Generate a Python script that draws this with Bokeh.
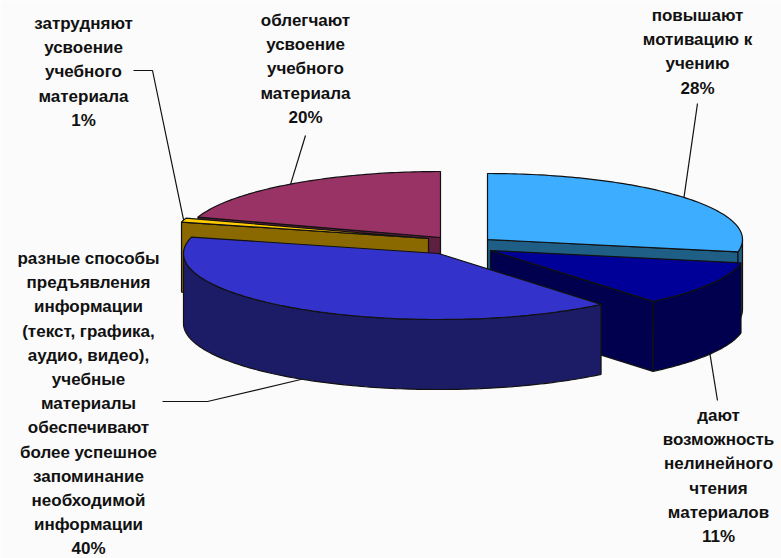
import math
from bokeh.plotting import figure
from bokeh.models import Range1d, ColumnDataSource
from bokeh.core.properties import value
from bokeh.embed import file_html
from bokeh.resources import INLINE

names = ["повышают", "дают", "разные", "затрудняют", "облегчают"]
values = [28, 11, 40, 1, 20]
label_lines = [
    ["повышают", "мотивацию к", "учению", "28%"],
    ["дают", "возможность", "нелинейного", "чтения", "материалов", "11%"],
    ["разные способы", "предъявления", "информации", "(текст, графика,", "аудио, видео),", "учебные",
     "материалы", "обеспечивают", "более успешное", "запоминание", "необходимой", "информации", "40%"],
    ["затрудняют", "усвоение", "учебного", "материала", "1%"],
    ["облегчают", "усвоение", "учебного", "материала", "20%"],
]
top_colors = ["#3DADFF", "#000099", "#3333CC", "#FFCC00", "#993366"]
side_colors = ["#1F5F85", "#00004F", "#1C1C66", "#8A6A00", "#5E1F40"]
centers = [(487, 239), (490, 250), (438, 253), (428, 238), (440, 237)]
label_pos = [(697, 15), (718, 415), (88, 258), (83, 23), (305, 20)]
leader_from = [(697, 103), (717, 400), (162, 401), (133, 70), (305, 135)]
leader_elbow = [None, None, (207, 401), (152, 70), None]
RX, RY, DEPTH, LINE_H = 255, 66, 70, 24.2
INK = "#111111"

W, H = 781, 558
p = figure(width=W, height=H, output_backend="svg", toolbar_location=None,
           x_range=Range1d(0, W), y_range=Range1d(H, 0), min_border=0,
           background_fill_color="#FBFBFB",
           border_fill_color="#FBFBFB", outline_line_color=None)
p.axis.visible = False
p.grid.visible = False

def pt(c, deg, dz=0):
    t = math.radians(deg)
    return c[0] + RX * math.sin(t), c[1] - RY * math.cos(t) + dz

def arc(c, a, b, dz=0):
    n = max(2, int(abs(b - a)) + 1)
    return [pt(c, a + (b - a) * i / (n - 1), dz) for i in range(n)]

def poly(points, color):
    p.patch([q[0] for q in points], [q[1] for q in points], fill_color=color,
            line_color=INK, line_width=1.2)

spans = []
acc = 0
for v in values:
    a = acc * 3.6
    acc += v
    spans.append((a, acc * 3.6))

def draw(i):
    c, (a, b) = centers[i], spans[i]
    side, top = side_colors[i], top_colors[i]
    pa, pb = pt(c, a), pt(c, b)
    # cut faces that look toward the viewer
    if i in (0, 1):
        poly([c, pb, (pb[0], pb[1] + DEPTH), (c[0], c[1] + DEPTH)], side)
    if i in (3, 4):
        poly([c, pa, (pa[0], pa[1] + DEPTH), (c[0], c[1] + DEPTH)], side)
    # outer wall: the part of the rim on the near half
    lo, hi = max(a, 90), min(b, 270)
    if lo < hi:
        poly(arc(c, lo, hi) + arc(c, hi, lo, DEPTH), side)
    poly([c] + arc(c, a, b), top)

for i in (4, 3, 0, 1, 2):
    draw(i)

for i in range(len(values)):
    a, b = spans[i]
    m = (a + b) / 2
    dz = DEPTH if 90 < m < 270 else 0
    end = pt(centers[i], m, dz)
    pts = [leader_from[i]] + ([leader_elbow[i]] if leader_elbow[i] else []) + [end]
    p.line([q[0] for q in pts], [q[1] for q in pts], line_color=INK, line_width=1.2)

xs, ys, ts = [], [], []
for lines, (x, y) in zip(label_lines, label_pos):
    for j, t in enumerate(lines):
        xs.append(x)
        ys.append(y + j * LINE_H)
        ts.append(t)
p.text(x="x", y="y", text="t", source=ColumnDataSource(dict(x=xs, y=ys, t=ts)),
       text_font=value("Liberation Sans"), text_font_style="bold", text_font_size="17px",
       text_align="center", text_baseline="middle", text_color="#111111")

open("out.html", "w").write(file_html(p, INLINE))
